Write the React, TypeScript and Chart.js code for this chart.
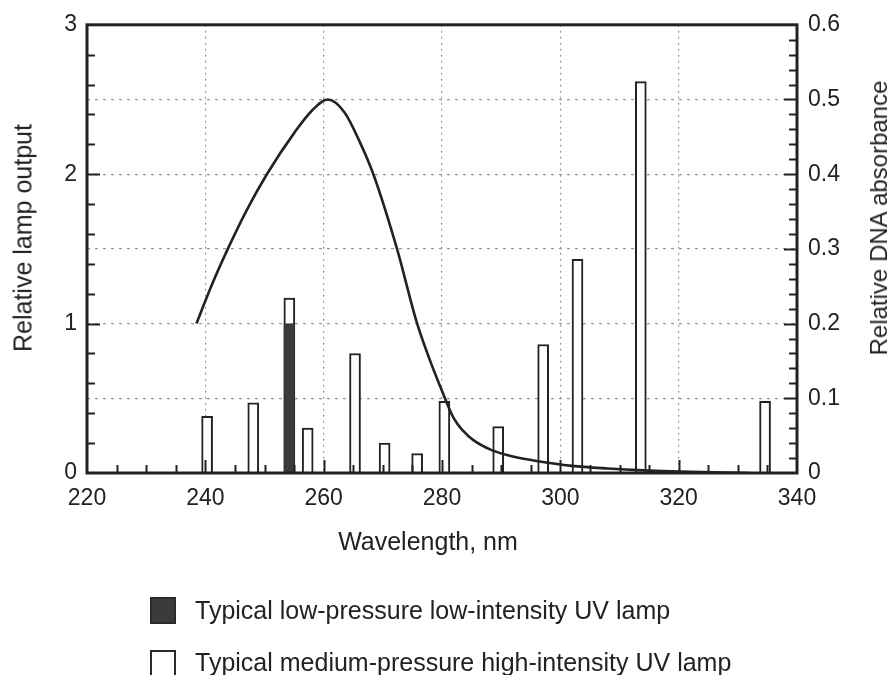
import React, { useEffect, useRef } from 'react';
import { Chart, registerables } from 'chart.js';

Chart.register(...registerables);

// Medium-pressure high-intensity lamp lines (nm) and relative output (left axis)
const mediumWavelengths = [240.3, 248.1, 254.2, 257.3, 265.3, 270.3, 275.8, 280.4, 289.5, 297.1, 302.9, 313.6, 334.6];
const mediumOutput = [0.38, 0.47, 1.17, 0.3, 0.8, 0.2, 0.13, 0.48, 0.31, 0.86, 1.43, 2.62, 0.48];

// Low-pressure low-intensity lamp line
const lowWavelengths = [254.2];
const lowOutput = [1.0];

// DNA absorbance curve (right axis)
const dnaWavelengths = [238.5, 241, 243.8, 247, 250.4, 255, 258, 260.7, 263.5, 266, 268.4, 272.4, 275.8, 280.5, 282, 283.5, 285.3, 288.3, 292, 296, 302, 308, 314, 320, 326, 332];
const dnaAbsorbance = [0.2, 0.25, 0.3, 0.352, 0.4, 0.455, 0.485, 0.5, 0.483, 0.445, 0.4, 0.3, 0.2, 0.1, 0.073, 0.057, 0.044, 0.031, 0.022, 0.016, 0.0095, 0.006, 0.0035, 0.002, 0.0008, 0];

const xTickLabels = [220, 240, 260, 280, 300, 320, 340];
const leftTickLabels = [0, 1, 2, 3];
const rightTickLabels = [0, 0.1, 0.2, 0.3, 0.4, 0.5, 0.6];

const FONT = '"Liberation Sans", Arial, Helvetica, sans-serif';
const INK = '#222';

const frameTicksPlugin = {
  id: 'frameTicks',
  afterDatasetsDraw(chart: any) {
    const { ctx, chartArea: a, scales } = chart;
    const xs = scales.x;
    const yl = scales.y;
    const yr = scales.y1;
    ctx.save();
    ctx.strokeStyle = INK;
    ctx.lineWidth = 2;
    ctx.beginPath();
    for (let w = xTickLabels[0] + 5; w < xTickLabels[xTickLabels.length - 1]; w += 5) {
      const px = Math.round(xs.getPixelForValue(w)) + 0.5;
      const len = xTickLabels.includes(w) ? 13 : 8;
      ctx.moveTo(px, a.bottom);
      ctx.lineTo(px, a.bottom - len);
    }
    for (let i = 1; i < 15; i++) {
      const v = i * 0.2;
      const py = Math.round(yl.getPixelForValue(v)) + 0.5;
      const len = Math.abs(v - Math.round(v)) < 1e-6 ? 13 : 8;
      ctx.moveTo(a.left, py);
      ctx.lineTo(a.left + len, py);
    }
    for (let i = 1; i < 30; i++) {
      const v = i * 0.02;
      const py = Math.round(yr.getPixelForValue(v)) + 0.5;
      const len = i % 5 === 0 ? 13 : 8;
      ctx.moveTo(a.right, py);
      ctx.lineTo(a.right - len, py);
    }
    ctx.stroke();
    ctx.lineWidth = 3;
    ctx.strokeRect(a.left, a.top, a.right - a.left, a.bottom - a.top);
    ctx.restore();
  },
};

export default function App() {
  const canvasRef = useRef<HTMLCanvasElement | null>(null);

  useEffect(() => {
    document.body.style.margin = '0';
    const canvas = canvasRef.current;
    if (!canvas) return;
    const chart = new Chart(canvas, {
      type: 'bar',
      data: {
        datasets: [
          {
            type: 'line',
            label: 'DNA absorbance',
            data: dnaWavelengths.map((x, i) => ({ x, y: dnaAbsorbance[i] })),
            yAxisID: 'y1',
            borderColor: INK,
            borderWidth: 2.6,
            pointRadius: 0,
            cubicInterpolationMode: 'monotone',
            fill: false,
            order: 0,
          } as any,
          {
            type: 'bar',
            label: 'Typical low-pressure low-intensity UV lamp',
            data: lowWavelengths.map((x, i) => ({ x, y: lowOutput[i] })),
            yAxisID: 'y',
            backgroundColor: '#3b3b3b',
            borderColor: '#2a2a2a',
            borderWidth: 1,
            barThickness: 11,
            grouped: false,
            order: 1,
          } as any,
          {
            type: 'bar',
            label: 'Typical medium-pressure high-intensity UV lamp',
            data: mediumWavelengths.map((x, i) => ({ x, y: mediumOutput[i] })),
            yAxisID: 'y',
            backgroundColor: '#ffffff',
            borderColor: INK,
            borderWidth: 2,
            barThickness: 11,
            grouped: false,
            order: 2,
          } as any,
        ],
      },
      options: {
        responsive: false,
        animation: false,
        layout: { padding: { top: 24, left: 0, right: 0, bottom: 0 } },
        plugins: { legend: { display: false }, tooltip: { enabled: false } },
        scales: {
          x: {
            type: 'linear',
            min: 220,
            max: 340,
            offset: false,
            afterBuildTicks: (s: any) => {
              s.ticks = xTickLabels.map((v) => ({ value: v }));
            },
            ticks: {
              color: INK,
              font: { family: FONT, size: 23 },
              padding: 12,
              maxRotation: 0,
              callback: (v: any) => String(v),
            },
            grid: {
              offset: false,
              drawTicks: false,
              lineWidth: 1.2,
              color: (c: any) =>
                c.tick && (c.tick.value === 220 || c.tick.value === 340) ? 'rgba(0,0,0,0)' : '#9a9a9a',
            },
            border: { display: false, dash: [2, 4] },
            afterFit: (s: any) => {
              s.height = 202;
            },
          },
          y: {
            type: 'linear',
            position: 'left',
            min: 0,
            max: 3,
            afterBuildTicks: (s: any) => {
              s.ticks = [0, 0.5, 1, 1.5, 2, 2.5, 3].map((v) => ({ value: v }));
            },
            ticks: {
              color: INK,
              font: { family: FONT, size: 23 },
              padding: 10,
              callback: (v: any) => (leftTickLabels.includes(v) ? String(v) : ''),
            },
            grid: {
              drawTicks: false,
              lineWidth: 1.2,
              color: (c: any) =>
                c.tick && (c.tick.value === 0 || c.tick.value === 3) ? 'rgba(0,0,0,0)' : '#9a9a9a',
            },
            border: { display: false, dash: [3, 5] },
            afterFit: (s: any) => {
              s.width = 87;
            },
          },
          y1: {
            type: 'linear',
            position: 'right',
            min: 0,
            max: 0.6,
            afterBuildTicks: (s: any) => {
              s.ticks = rightTickLabels.map((v) => ({ value: v }));
            },
            ticks: {
              color: INK,
              font: { family: FONT, size: 23 },
              padding: 11,
              callback: (v: any) => (v === 0 ? '0' : Number(v).toFixed(1)),
            },
            grid: { display: false, drawTicks: false },
            border: { display: false },
            afterFit: (s: any) => {
              s.width = 96;
            },
          },
        },
      } as any,
      plugins: [frameTicksPlugin],
    });
    return () => chart.destroy();
  }, []);

  const textStyle: React.CSSProperties = {
    position: 'absolute',
    fontFamily: FONT,
    color: INK,
    whiteSpace: 'nowrap',
    lineHeight: 1,
  };

  return (
    <div style={{ position: 'absolute', left: 0, top: 0, width: 893, height: 675, background: '#fff', overflow: 'hidden' }}>
      <canvas ref={canvasRef} width={893} height={675} style={{ position: 'absolute', left: 0, top: 0 }} />
      <div style={{ ...textStyle, fontSize: 25, left: 23, top: 238, transform: 'translate(-50%, -50%) rotate(-90deg)' }}>
        Relative lamp output
      </div>
      <div style={{ ...textStyle, fontSize: 24, left: 879, top: 218, transform: 'translate(-50%, -50%) rotate(-90deg)' }}>
        Relative DNA absorbance
      </div>
      <div style={{ ...textStyle, fontSize: 25, left: 428, top: 541, transform: 'translate(-50%, -50%)' }}>
        Wavelength, nm
      </div>
      <div style={{ position: 'absolute', left: 150, top: 597, width: 22, height: 23, background: '#3b3b3b', border: '2px solid #2a2a2a' }} />
      <div style={{ ...textStyle, fontSize: 25, left: 195, top: 610, transform: 'translateY(-50%)' }}>
        Typical low-pressure low-intensity UV lamp
      </div>
      <div style={{ position: 'absolute', left: 150, top: 650, width: 22, height: 23, background: '#fff', border: '2px solid #2a2a2a' }} />
      <div style={{ ...textStyle, fontSize: 25, left: 195, top: 662, transform: 'translateY(-50%)' }}>
        Typical medium-pressure high-intensity UV lamp
      </div>
    </div>
  );
}
